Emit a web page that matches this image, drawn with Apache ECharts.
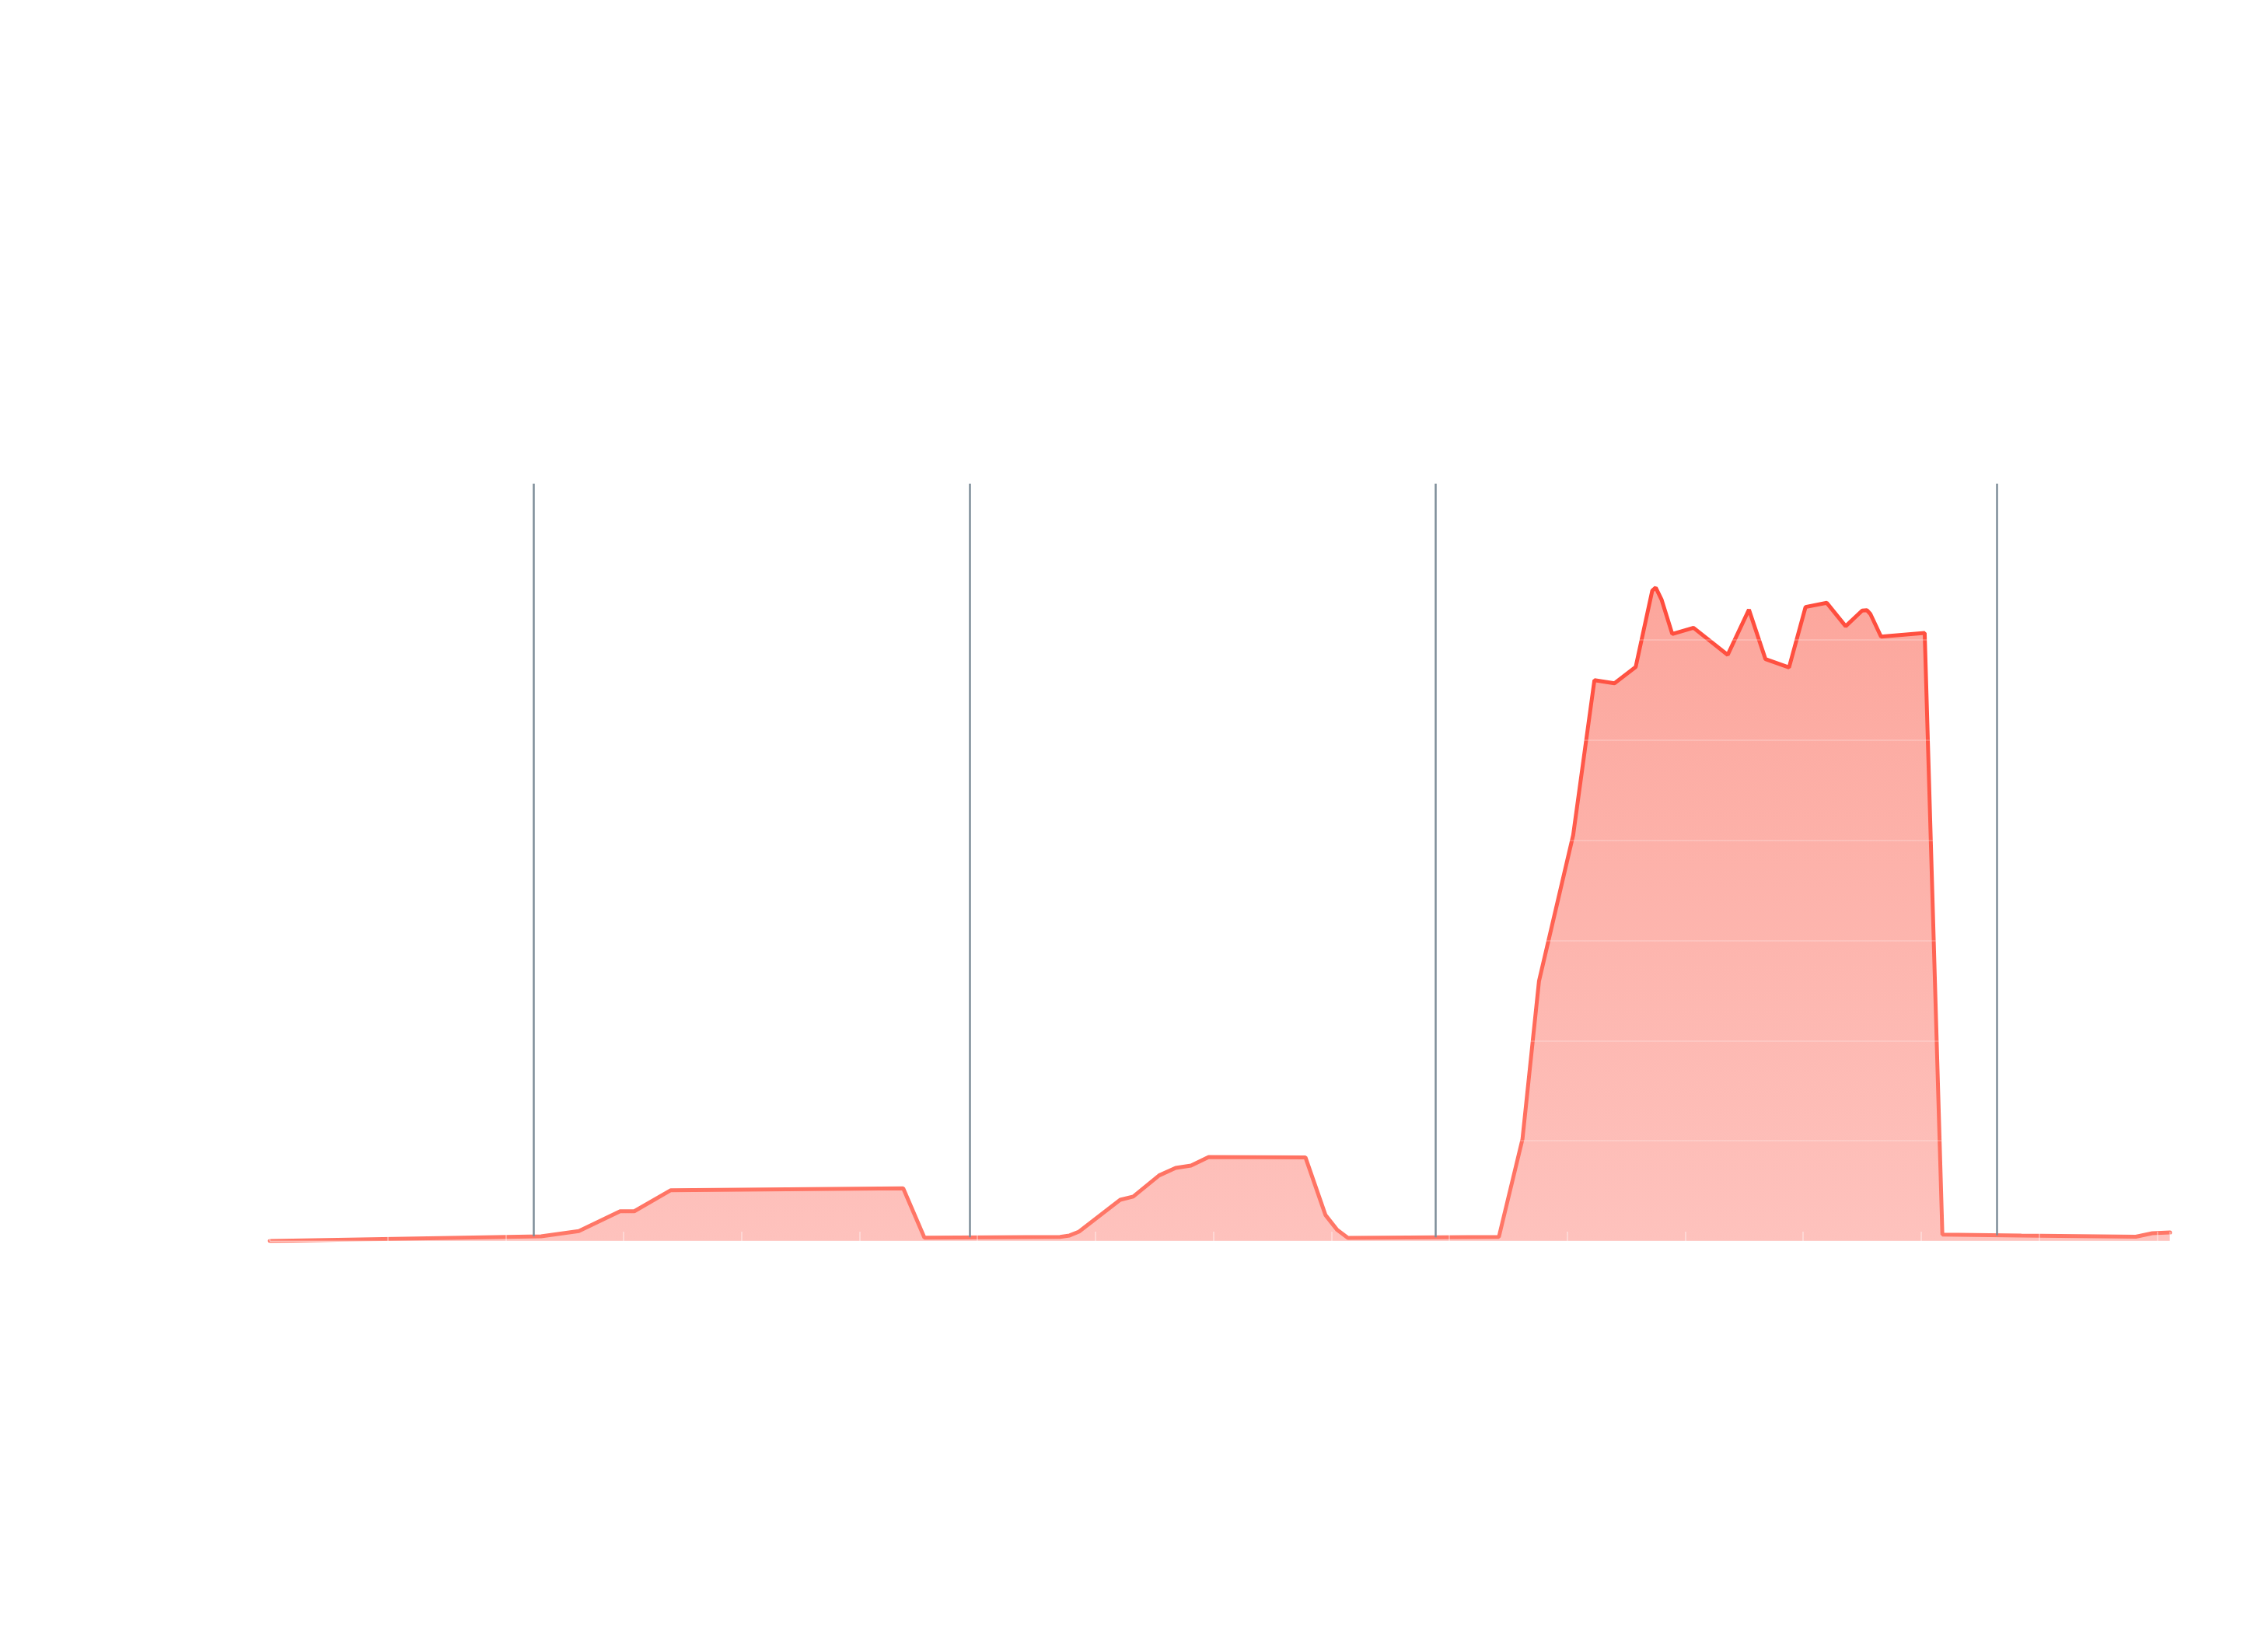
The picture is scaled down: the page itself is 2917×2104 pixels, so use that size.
<!DOCTYPE html>
<html lang="en" style="height: 100%">
<head>
  <meta charset="utf-8">
</head>
<body style="height: 100%; margin: 0; background: #ffffff">
  <div id="container" style="height: 100%"></div>

  <script type="text/javascript" src="https://cdn.jsdelivr.net/npm/echarts@6/dist/echarts.min.js"></script>
  <script type="text/javascript">
    // x positions (axis units, one tick per unit) and values of the series
    var xValues = [
      0, 2.30, 2.62, 2.97, 3.09, 3.40, 5.37, 5.55, 6.70, 6.78, 6.86,
      7.15, 7.21, 7.32, 7.54, 7.68, 7.81, 7.96, 8.78, 8.95, 9.05, 9.14,
      10.42, 10.62, 10.76, 11.05, 11.23, 11.40, 11.58, 11.72, 11.75, 11.80,
      11.89, 12.07, 12.36, 12.54, 12.68, 12.88, 13.02, 13.20, 13.36, 13.50,
      13.54, 13.57, 13.66, 14.03, 14.18, 14.85, 15.82, 15.96, 16.11
    ];
    var yValues = [
      0, 0.47, 0.99, 2.97, 2.97, 5.07, 5.26, 0.33, 0.41, 0.55, 0.93,
      3.57, 4.11, 4.43, 6.55, 7.30, 7.53, 8.39, 8.35, 2.59, 1.10, 0.31,
      0.41, 10.17, 25.93, 40.53, 55.98, 55.67, 57.30, 64.91, 65.22, 64.00,
      60.59, 61.21, 58.51, 63.03, 58.09, 57.26, 63.29, 63.70, 61.37, 62.93,
      62.97, 62.58, 60.33, 60.69, 0.64, 0.54, 0.43, 0.78, 0.85
    ];

    // vertical event markers
    var eventX = [2.235, 5.933, 9.881, 14.641];
    var eventY = [0.46, 0.36, 0.37, 0.57];

    var xMax = 16.11;
    var yMax = 75.6;

    var seriesData = xValues.map(function (x, i) {
      return [x, yValues[i]];
    });

    var markData = eventX.map(function (x, i) {
      return [{ coord: [x, eventY[i]] }, { coord: [x, yMax] }];
    });

    var dom = document.getElementById('container');
    var myChart = echarts.init(dom, null, { renderer: 'canvas' });

    var option = {
      animation: false,
      backgroundColor: '#ffffff',
      grid: {
        left: 347,
        right: 126,
        top: 622,
        bottom: 508,
        containLabel: false
      },
      xAxis: {
        type: 'value',
        min: 0,
        max: xMax,
        interval: 1,
        z: 5,
        axisLine: {
          show: true,
          lineStyle: { color: 'rgba(255,255,255,0.5)', width: 1 }
        },
        axisTick: {
          show: true,
          inside: true,
          length: 12,
          lineStyle: { color: 'rgba(255,255,255,0.35)', width: 2 }
        },
        axisLabel: { show: false },
        splitLine: { show: false }
      },
      yAxis: {
        type: 'value',
        min: 0,
        max: yMax,
        interval: 10,
        z: 5,
        axisLine: { show: false },
        axisTick: { show: false },
        axisLabel: { show: false },
        splitLine: {
          show: true,
          lineStyle: { color: 'rgba(255,255,255,0.2)', width: 2 }
        }
      },
      series: [
        {
          type: 'line',
          data: seriesData,
          showSymbol: false,
          z: 2,
          lineStyle: {
            width: 5,
            cap: 'round',
            color: {
              type: 'linear', x: 0, y: 0, x2: 0, y2: 1,
              colorStops: [
                { offset: 0, color: '#ff4c3c' },
                { offset: 1, color: '#ff7868' }
              ]
            }
          },
          areaStyle: {
            opacity: 1,
            color: {
              type: 'linear', x: 0, y: 0, x2: 0, y2: 1,
              colorStops: [
                { offset: 0, color: '#fca69c' },
                { offset: 1, color: '#fec2bd' }
              ]
            }
          },
          markLine: {
            silent: true,
            symbol: ['none', 'none'],
            label: { show: false },
            lineStyle: { color: '#7d8c98', width: 2.5, type: 'solid' },
            emphasis: { disabled: true },
            data: markData
          }
        }
      ]
    };

    myChart.setOption(option);
    window.addEventListener('resize', myChart.resize);
  </script>
</body>
</html>
